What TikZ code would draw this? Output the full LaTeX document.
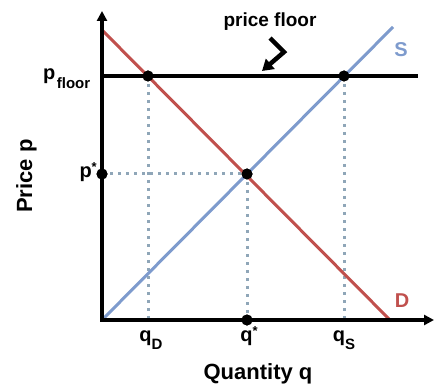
\documentclass[tikz,border=0pt]{standalone}
\usepackage{fontspec}
\setmainfont{Liberation Sans}
\usetikzlibrary{arrows.meta}
\definecolor{dred}{RGB}{192,80,77}
\definecolor{sblue}{RGB}{126,155,205}
\definecolor{dotc}{RGB}{143,166,184}
\begin{document}
\begin{tikzpicture}[x=1pt,y=-1pt,
  axis/.style={line width=3.6pt, {Triangle[length=10pt,width=10pt]}-{Triangle[length=10pt,width=10pt]}},
  guide/.style={dotc, line width=3pt, dash pattern=on 3pt off 5pt},
  curve/.style={line width=3pt},
  dot/.style={circle, fill=black, inner sep=0pt, minimum size=11pt},
  lbl/.style={font=\bfseries\fontsize{20}{22}\selectfont, inner sep=0pt},
  big/.style={font=\bfseries\fontsize{22}{24}\selectfont, inner sep=0pt}]
\useasboundingbox (0,0) rectangle (434,385);
% coordinates
\coordinate (O) at (102,320);
\coordinate (ytop) at (102,11);
\coordinate (xend) at (434,320);
\coordinate (Dtop) at (102,30);
\coordinate (Dbot) at (390,320);
\coordinate (Stop) at (393,27);
\coordinate (Fl) at (102,76);
\coordinate (Fr) at (418,76);
\coordinate (a1) at (270,38);
\coordinate (a2) at (284,52);
\coordinate (a3) at (262,71);
% guides
\node[dot] (qd) at (148,76) {};
\node[dot] (qs) at (344,76) {};
\node[dot] (eq) at (247,174) {};
\node[dot] (pst) at (102,174) {};
\node[dot] (qst) at (247,320) {};
\coordinate (qdb) at (148,320);
\coordinate (qsb) at (344,320);
\draw[guide] (qd.center) -- (qdb);
\draw[guide] (qs.center) -- (qsb);
\draw[guide] (eq.center) -- (qst.center);
\draw[guide] (pst.center) -- (eq.center);
% curves
\draw[curve, dred] (Dtop) -- (Dbot);
\draw[curve, sblue] (O) -- (Stop);
\draw[curve, line width=3.6pt] (Fl) -- (Fr);
% axes
\draw[axis] (ytop) -- (O) -- (xend);
% dots on top
\node[dot] at (qd) {};
\node[dot] at (qs) {};
\node[dot] at (eq) {};
\node[dot] at (pst) {};
\node[dot] at (qst) {};
% price floor arrow
\draw[line width=4.5pt, -{Triangle[length=11pt,width=13pt]}] (a1) -- (a2) -- (a3);
\node[lbl, anchor=base, font=\bfseries\fontsize{19}{21}\selectfont] (pf) at (270,27) {price floor};
% labels
\node[lbl, anchor=base west] (pfl) at (43,80) {p\hspace{1.5pt}\raisebox{-9pt}{\fontsize{15}{15}\selectfont floor}};
\node[lbl, anchor=base east] (pstl) at (97,178) {p\raisebox{6pt}{\fontsize{13}{13}\selectfont *}};
\node[lbl, anchor=base] (qdl) at (151,341) {q\raisebox{-8pt}{\fontsize{15}{15}\selectfont D}};
\node[lbl, anchor=base] (qstl) at (249,341) {q\raisebox{6pt}{\fontsize{13}{13}\selectfont *}};
\node[lbl, anchor=base] (qsl) at (344,341) {q\raisebox{-8pt}{\fontsize{15}{15}\selectfont S}};
\node[big, anchor=base] (xl) at (258,379) {Quantity q};
\node[big, anchor=base, rotate=90] (yl) at (32,176) {Price p};
\node[lbl, text=sblue, anchor=base] (Sl) at (401,57) {S};
\node[lbl, text=dred, anchor=base] (Dl) at (402,307) {D};
\end{tikzpicture}
\end{document}
